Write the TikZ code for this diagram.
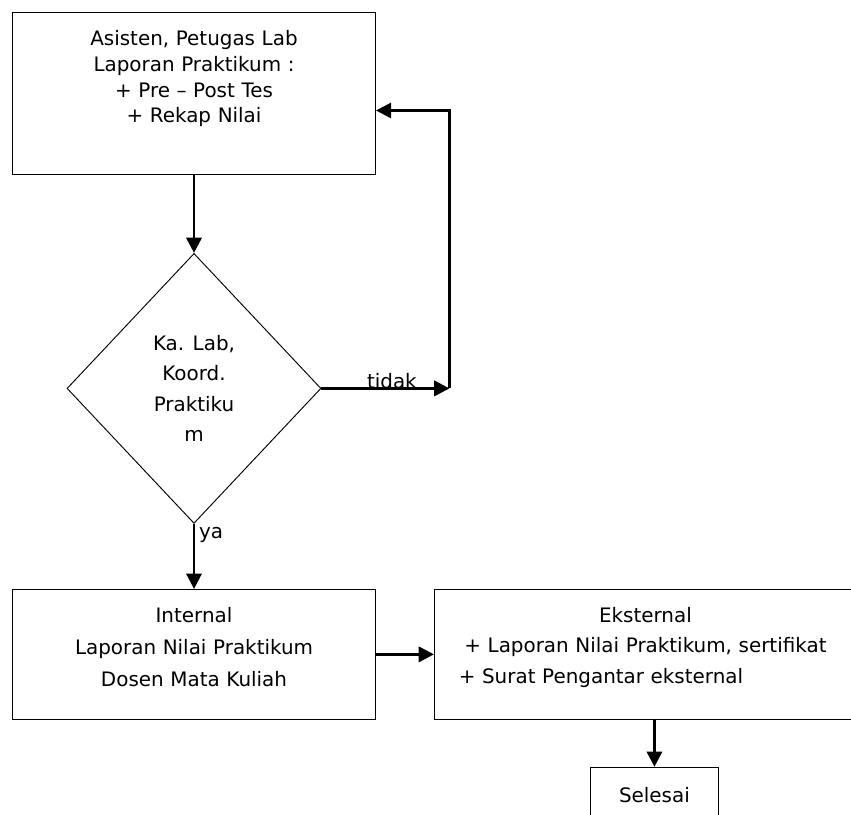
\documentclass[tikz,border=0pt]{standalone}
\usepackage{fontspec}
\setmainfont{DejaVu Sans}
\usetikzlibrary{arrows.meta, positioning, calc, shapes.geometric}

\begin{document}
\begin{tikzpicture}[
  >={Triangle[length=13pt,width=13pt]},
  kotak/.style={
    draw,
    line width=0.8pt,
    inner sep=0pt,
    align=center,
    text width=10cm,
    text height=0.99cm,
    font=\fontsize{17}{27.5}\selectfont
  },
  keputusan/.style={
    draw,
    diamond,
    line width=0.8pt,
    align=center,
    minimum width=7.62cm,
    minimum height=8.1cm,
    font=\fontsize{17}{26}\selectfont
  },
  ket/.style={font=\fontsize{17}{20}\selectfont},
  link/.style={->, line width=2.2pt}
]

\useasboundingbox (0,0) rectangle (25.53,-24.42);

% Laporan awal
\node[kotak, font=\fontsize{17}{22}\selectfont, minimum width=10.89cm,
  text depth=3.87cm, anchor=north] (lapor) at (5.82,-0.36)
  {Asisten, Petugas Lab\\Laporan Praktikum :\\+ Pre -- Post Tes\\+ Rekap Nilai};

% Pemeriksaan
\node[keputusan, below=2.34cm of lapor] (dia)
  {Ka. Lab,\\Koord.\\Praktiku\\m};

% Laporan nilai
\node[kotak, minimum width=10.89cm, text depth=2.91cm, below=1.95cm of dia] (internal)
  {Internal\\Laporan Nilai Praktikum\\Dosen Mata Kuliah};
\node[kotak, font=\fontsize{17}{26}\selectfont, text width=11.2cm,
  minimum width=12.66cm, text depth=2.91cm, right=1.74cm of internal] (eksternal)
  {Eksternal\\+ Laporan Nilai Praktikum, sertifikat\\
   \rlap{+ Surat Pengantar eksternal}\phantom{+ Laporan Nilai Praktikum, sertifikat}};

% Akhir
\node[kotak, text width=3cm, minimum width=3.84cm, text height=1.05cm,
  text depth=0.9cm, below=1.41cm of eksternal, xshift=0.27cm] (selesai) {Selesai};

\coordinate (balik) at ($(dia.east)+(3.84,0)$);

% Panah
\draw[link] (lapor) -- (dia);
\draw[link] (dia) -- node[ket, pos=0.17, right] {ya} (internal);
\draw[link] (dia.east) -- node[ket, pos=0.55, anchor=base] {tidak} (balik);
\draw[link] (balik) |- ([yshift=-0.51cm]lapor.east);
\draw[link] (internal) -- (eksternal);
\draw[link] (eksternal.south -| selesai.north) -- (selesai);

\end{tikzpicture}
\end{document}
